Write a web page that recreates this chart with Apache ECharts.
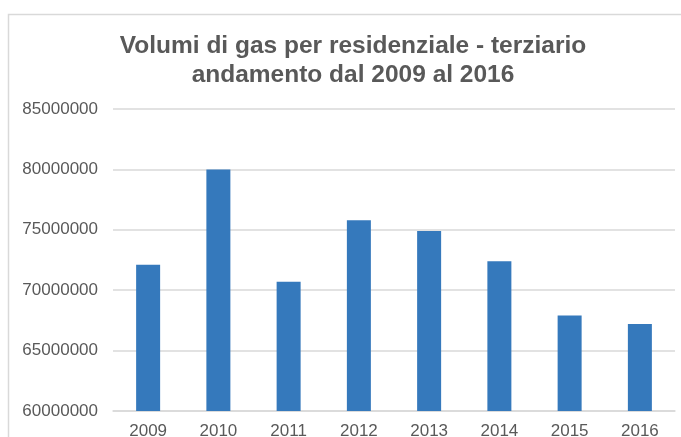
<!DOCTYPE html>
<html>
<head>
<meta charset="utf-8">
<script src="https://cdn.jsdelivr.net/npm/echarts@6/dist/echarts.min.js"></script>
<style>
	html, body { margin: 0; padding: 0; background: #fff; }
	#chart { width: 681px; height: 437px; }
</style>
</head>
<body>
<div id="chart"></div>
<script>
	var anni = ["2009", "2010", "2011", "2012", "2013", "2014", "2015", "2016"];
	var volumi = [72100000, 80000000, 70700000, 75800000, 74900000, 72400000, 67900000, 67200000];
	var yMin = 60000000,
		yMax = 85000000,
		yStep = 5000000;

	var textColor = "#595959",
		lineColor = "#d9d9d9";

	var myChart = echarts.init(document.getElementById("chart"));
	var option = {
		animation: false,
		backgroundColor: "#fff",
		graphic: [{
			type: "rect",
			shape: { x: 8.5, y: 14.5, width: 720, height: 480 },
			style: { fill: "none", stroke: lineColor, lineWidth: 1.5 },
			silent: true
		}, {
			type: "text",
			x: 353,
			y: 32,
			silent: true,
			style: {
				text: "Volumi di gas per residenziale - terziario\nandamento dal 2009 al 2016",
				align: "center",
				verticalAlign: "top",
				fill: textColor,
				font: "bold 24.5px 'Liberation Sans', Arial, sans-serif",
				lineHeight: 29
			}
		}],
		grid: {
			left: 113,
			right: 6,
			top: 109,
			bottom: 26,
			outerBoundsMode: "none"
		},
		xAxis: {
			type: "category",
			data: anni,
			axisTick: { show: false },
			axisLine: {
				lineStyle: { color: lineColor, width: 1.5 }
			},
			axisLabel: {
				color: textColor,
				fontSize: 17,
				fontFamily: "'Liberation Sans', Arial, sans-serif",
				margin: 12
			}
		},
		yAxis: {
			type: "value",
			min: yMin,
			max: yMax,
			interval: yStep,
			axisLine: { show: false },
			axisTick: { show: false },
			axisLabel: {
				color: textColor,
				fontSize: 17,
				fontFamily: "'Liberation Sans', Arial, sans-serif",
				margin: 15,
				formatter: function(v) {
					return String(v);
				}
			},
			splitLine: {
				lineStyle: { color: lineColor, width: 1.5 }
			}
		},
		series: [{
			type: "bar",
			data: volumi,
			barWidth: 24,
			itemStyle: { color: "#3579bc" }
		}]
	};
	myChart.setOption(option);
</script>
</body>
</html>
